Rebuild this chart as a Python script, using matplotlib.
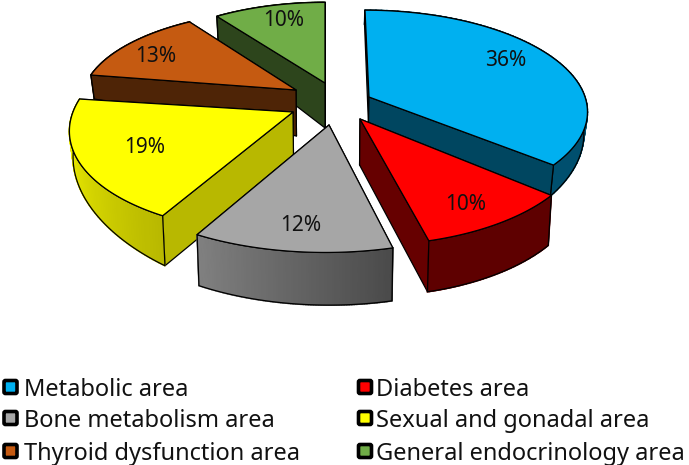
import numpy as np
import matplotlib
matplotlib.use("Agg")
import matplotlib.pyplot as plt
from matplotlib.colors import to_rgb
from matplotlib.patches import Polygon, FancyBboxPatch

plt.rcParams['font.family'] = ['Noto Sans', 'DejaVu Sans']

names = ["Metabolic area", "Diabetes area", "Bone metabolism area",
         "Sexual and gonadal area", "Thyroid dysfunction area",
         "General endocrinology area"]
values = [36, 10, 12, 19, 13, 10]
top_colors = ["#00B0F0", "#FF0000", "#A6A6A6", "#FFFF00", "#C55A11", "#70AD47"]
radial_colors = ["#004660", "#660000", "#595959", "#B8B800", "#4E2406", "#2D451C"]
# curved side: colour at start and end of the arc
curve_from = ["#004F6E", "#5E0000", "#4A4A4A", "#B8B800", "#4E2406", "#2D451C"]
curve_to = ["#004F6E", "#5E0000", "#808080", "#FFFF00", "#4E2406", "#2D451C"]

# layout of the exploded pie, in pixels
apex_x = [369, 360, 329, 293, 296, 325]
apex_y = [97, 119, 125, 112, 90, 83]
radius_x = [216, 224, 237, 220, 211, 203]
radius_y = [98, 110, 111, 105, 90, 91]
skew_x = [-4.5, -4.7, 3.2, 11, 8, 0]
tilt_y = [0, 0, 0, 0, 4, 0]
persp = 0.129
# thickness at apex, at first edge and at last edge
depth_apex = [27, 46, 48, 48, 46, 45]
depth_start = [14, 50, 53, 50, 24, 30]
depth_end = [31, 51, 51, 22, 20, 16]
label_x = [506, 466, 301, 145, 156, 284]
label_y = [60, 204, 225, 147, 57, 20]

legend_x = [10.5, 365]
legend_text_x = [24, 376]
legend_y = [387, 418, 451]


def arc(i, t):
    u, v = np.sin(t), np.cos(t)
    s = 1 / (1 + persp * v)
    x = apex_x[i] + radius_x[i] * u * s + skew_x[i] * v * s
    y = apex_y[i] - radius_y[i] * v * s + tilt_y[i] * u * s
    return x, y


def lower(i, x, y, t0, t1):
    # push top face points down, thickness is linear over the wedge
    ax_, ay_ = apex_x[i], apex_y[i]
    x0, y0 = arc(i, t0)
    x1, y1 = arc(i, t1)
    m = np.array([[x0 - ax_, x1 - ax_], [y0 - ay_, y1 - ay_]])
    a, b = np.linalg.solve(m, np.array([np.ravel(x) - ax_, np.ravel(y) - ay_]))
    d = depth_apex[i] + a * (depth_start[i] - depth_apex[i]) + b * (depth_end[i] - depth_apex[i])
    xb = np.ravel(x) + (330 - np.ravel(x)) * 0.014
    return xb, np.ravel(y) + d


def draw_curve(i, t, x, y, xb, yb):
    c0, c1 = np.array(to_rgb(curve_from[i])), np.array(to_rgb(curve_to[i]))
    for j in range(len(t) - 1):
        f = j / (len(t) - 2)
        pts = [(x[j], y[j]), (x[j + 1], y[j + 1]), (xb[j + 1], yb[j + 1]), (xb[j], yb[j])]
        col = c0 + (c1 - c0) * f
        ax.add_patch(Polygon(pts, facecolor=col, edgecolor=col, linewidth=1.2))
    ax.add_patch(Polygon(np.r_[np.c_[x, y], np.c_[xb, yb][::-1]], facecolor="none", **edge))


fig = plt.figure(figsize=(6.89, 4.65), dpi=100)
ax = fig.add_axes([0, 0, 1, 1])
ax.set_xlim(0, 689)
ax.set_ylim(465, 0)
ax.axis("off")

cum = np.cumsum([0] + values) / sum(values) * 2 * np.pi
edge = dict(edgecolor="black", linewidth=0.9, joinstyle="round")

# back to front
for i in [5, 4, 0, 3, 1, 2]:
    t0, t1 = cum[i], cum[i + 1]
    t = np.linspace(t0, t1, 80)
    x, y = arc(i, t)
    xb, yb = lower(i, x, y, t0, t1)
    axb, ayb = lower(i, apex_x[i], apex_y[i], t0, t1)
    front_arc = np.cos((t0 + t1) / 2) < 0.2
    if not front_arc:
        draw_curve(i, t, x, y, xb, yb)
    # far edge first so the near one covers it
    for j in sorted([0, -1], key=lambda k: y[k]):
        pts = [(apex_x[i], apex_y[i]), (x[j], y[j]), (xb[j], yb[j]), (axb[0], ayb[0])]
        ax.add_patch(Polygon(pts, facecolor=radial_colors[i], **edge))
    if front_arc:
        draw_curve(i, t, x, y, xb, yb)
    ax.add_patch(Polygon(np.r_[[[apex_x[i], apex_y[i]]], np.c_[x, y]], facecolor=top_colors[i], **edge))

for i in range(len(values)):
    ax.text(label_x[i], label_y[i], f"{values[i]}%", ha="center", va="center",
            fontsize=15, color="#111111")
    col = i % 2
    row = i // 2
    ax.add_patch(FancyBboxPatch((legend_x[col] - 6.5, legend_y[row] - 6.5), 13, 13,
                                boxstyle="round,pad=0,rounding_size=1.5",
                                facecolor=top_colors[i], edgecolor="black", linewidth=2.6))
    ax.text(legend_text_x[col], legend_y[row], names[i], ha="left", va="center_baseline",
            fontsize=17, color="#111111")

fig.savefig("out.png", dpi=100)
